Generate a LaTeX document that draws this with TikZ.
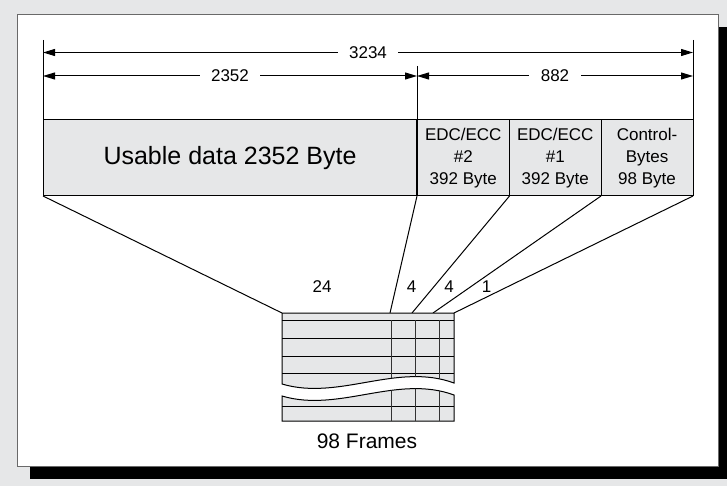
\documentclass[tikz,border=0pt]{standalone}
\usepackage{fontspec}
\setmainfont{Liberation Sans}
\usetikzlibrary{arrows.meta}
\definecolor{backgray}{RGB}{230,231,232}
\definecolor{cellgray}{RGB}{230,231,232}
\definecolor{rimgray}{RGB}{105,105,105}

\begin{document}
\begin{tikzpicture}[x=1pt,y=-1pt,line width=1pt,
    cell/.style={draw, fill=cellgray, minimum height=76pt, inner sep=0pt, outer sep=0pt,
      anchor=north west, align=center, font=\fontsize{17}{21.7}\selectfont},
    dimline/.style={{Triangle[length=12pt,width=7pt]}-{Triangle[length=12pt,width=7pt]}},
    dimtext/.style={midway, fill=white, inner xsep=11.5pt, font=\fontsize{17}{20}\selectfont},
    lbl/.style={font=\fontsize{17}{20}\selectfont}]
  % frame with shadow
  \fill[backgray] (0,0) rectangle (727,486);
  \fill[black] (30,27) rectangle (727,479);
  \draw[rimgray, fill=white] (17.5,14.5) rectangle (718.5,466);
  \useasboundingbox (0,0) rectangle (727,486);

  % sector layout
  \node[cell, minimum width=374pt, font=\fontsize{25}{30}\selectfont] (data) at (43,120)
        {Usable data 2352 Byte};
  \node[cell, minimum width=92.5pt] (edcB) at (data.north east) {EDC/ECC\\\#2\\392 Byte};
  \node[cell, minimum width=91.5pt] (edcA) at (edcB.north east) {EDC/ECC\\\#1\\392 Byte};
  \node[cell, minimum width=92pt] (ctrl) at (edcA.north east) {Control-\\Bytes\\98 Byte};
  \draw[line width=2.2pt] (data.north east) -- (data.south east);

  % dimensions
  \coordinate (dimL) at (43,40);
  \coordinate (dimR) at (693,40);
  \coordinate (dimM) at (417,66);
  \draw (dimL) -- (data.north west);
  \draw (dimR) -- (ctrl.north east);
  \draw (dimM) -- (data.north east);
  \draw[dimline] (43,52.5) -- (693,52.5) node[dimtext] (total) {3234};
  \draw[dimline] (43,76) -- (417,76) node[dimtext] (user) {2352};
  \draw[dimline] (417,76) -- (693,76) node[dimtext] (extra) {882};

  % frame table
  \coordinate (t0) at (282,313);
  \coordinate (t1) at (390,313);
  \coordinate (t2) at (412,313);
  \coordinate (t3) at (433,313);
  \coordinate (t4) at (454,313);
  \draw (data.south west) -- (t0);
  \draw (data.south east) -- (t1);
  \draw (edcB.south east) -- (t2);
  \draw (edcA.south east) -- (t3);
  \draw (ctrl.south east) -- (t4);

  \draw[fill=cellgray] (t0) -- (t4) -- (454,383) .. controls (397,362) and (339,401) .. (282,384) -- cycle;
  \begin{scope}
    \clip (t0) -- (t4) -- (454,383) .. controls (397,362) and (339,401) .. (282,384) -- cycle;
    \foreach \y in {320,338,356,373}
      \draw (282,\y) -- (454,\y);
    \foreach \x in {391,415,439}
      \draw[black!80, line width=0.9pt] (\x,320) -- (\x,400);
  \end{scope}
  \draw[fill=cellgray] (282,396) .. controls (339,413) and (397,374) .. (454,395) -- (454,421) -- (282,421) -- cycle;
  \begin{scope}
    \clip (282,396) .. controls (339,413) and (397,374) .. (454,395) -- (454,421) -- (282,421) -- cycle;
    \draw (282,406) -- (454,406);
    \foreach \x in {391,415,439}
      \draw[black!80, line width=0.9pt] (\x,380) -- (\x,421);
  \end{scope}

  \node[lbl] (n24) at (322,287) {24};
  \node[lbl] (n4b) at (411.5,287) {4};
  \node[lbl] (n4a) at (449,287) {4};
  \node[lbl] (n1) at (486.5,287) {1};
  \node[font=\fontsize{21}{25}\selectfont] (frames) at (367,441) {98 Frames};
\end{tikzpicture}
\end{document}
